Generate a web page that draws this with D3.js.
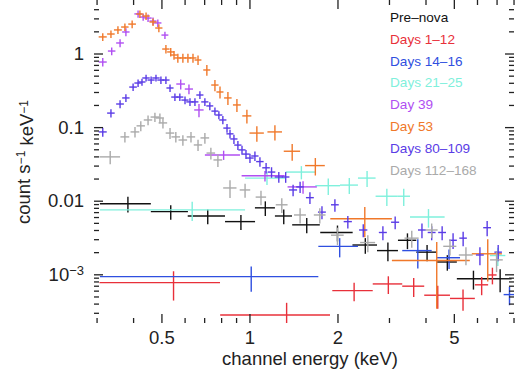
<!DOCTYPE html>
<html>
<head>
<meta charset="utf-8">
<script src="https://cdn.jsdelivr.net/npm/d3@7"></script>
<style>
  body { margin: 0; background: #fff; }
  svg { display: block; font-family: "Liberation Sans", Arial, sans-serif; }
  .axis path { display: none; }
  .axis line { stroke: #222; stroke-width: 1.3; }
  .axis text { font-size: 18.5px; fill: #222; font-family: "Liberation Sans", Arial, sans-serif; }
</style>
</head>
<body>
<div id="chart"></div>
<script>
// each row: [energy keV, half bin width, count s^-1 keV^-1, error]
var preNova = [
  [0.384, 0.076, 0.0091, 0.0022], [0.538, 0.078, 0.0071, 0.0016], [0.72, 0.105, 0.0062, 0.0014],
  [0.935, 0.11, 0.0052, 0.0012], [1.133, 0.089, 0.0080, 0.0018], [1.31, 0.088, 0.0062, 0.0014],
  [1.57, 0.17, 0.0047, 0.0011], [2.0, 0.254, 0.0037, 0.0009], [2.49, 0.24, 0.0025, 0.0006],
  [2.975, 0.245, 0.0021, 0.0006], [3.47, 0.25, 0.0029, 0.0007], [4.05, 0.33, 0.0020, 0.0005],
  [4.75, 0.37, 0.00147, 0.00035], [5.835, 0.715, 0.00087, 0.00025], [7.2, 0.68, 0.00087, 0.0003]
]
var days1to12 = [
  [0.55, 0.243, 0.00077, 0.00033], [1.34, 0.546, 0.00028, 0.00013], [2.28, 0.36, 0.0006, 0.00017],
  [2.985, 0.345, 0.00074, 0.0002], [3.645, 0.315, 0.00069, 0.0002], [4.405, 0.445, 0.00052, 0.00018],
  [5.375, 0.525, 0.00047, 0.00015], [6.225, 0.325, 0.00072, 0.0002], [6.775, 0.225, 0.00098, 0.00025]
]
var days14to16 = [
  [1.014, 0.706, 0.00093, 0.00035], [2.035, 0.315, 0.0024, 0.0007], [3.765, 0.435, 0.0021, 0.0009],
  [4.815, 0.435, 0.00168, 0.0005], [7.75, 0.35, 0.00053, 0.00015]
]
var days21to25 = [
  [0.637, 0.329, 0.0075, 0.0022], [1.148, 0.182, 0.0203, 0.004], [1.505, 0.175, 0.0245, 0.005],
  [1.86, 0.18, 0.016, 0.004], [2.195, 0.155, 0.0163, 0.004], [2.525, 0.175, 0.0203, 0.005],
  [2.95, 0.25, 0.0115, 0.003], [3.37, 0.17, 0.0115, 0.003], [4.095, 0.555, 0.006, 0.0017],
  [7.07, 0.43, 0.0018, 0.0005]
]
var day39 = [
  [0.315, 0.01, 0.766, 0.1], [0.338, 0.01, 1.08, 0.13], [0.361, 0.011, 1.39, 0.17],
  [0.378, 0.011, 1.96, 0.24], [0.416, 0.012, 3.45, 0.4], [0.433, 0.012, 3.13, 0.35],
  [0.45, 0.013, 3.03, 0.35], [0.468, 0.013, 2.76, 0.32], [0.486, 0.014, 2.60, 0.3],
  [0.514, 0.014, 1.78, 0.2], [0.582, 0.02, 0.385, 0.06], [0.621, 0.02, 0.329, 0.05],
  [0.672, 0.025, 0.171, 0.035], [0.816, 0.112, 0.0418, 0.006], [1.13, 0.19, 0.0218, 0.0035],
  [1.525, 0.175, 0.0154, 0.003]
]
var day53 = [
  [0.315, 0.01, 1.68, 0.2], [0.336, 0.01, 1.84, 0.22], [0.355, 0.011, 2.09, 0.25],
  [0.375, 0.011, 2.29, 0.27], [0.397, 0.012, 2.51, 0.3], [0.422, 0.012, 3.44, 0.4],
  [0.443, 0.013, 3.23, 0.38], [0.468, 0.013, 2.68, 0.32], [0.49, 0.014, 2.22, 0.27],
  [0.518, 0.015, 1.15, 0.15], [0.538, 0.015, 1.05, 0.14], [0.552, 0.015, 0.954, 0.13],
  [0.569, 0.016, 0.87, 0.12], [0.592, 0.016, 0.87, 0.12], [0.616, 0.017, 0.87, 0.12],
  [0.641, 0.018, 0.87, 0.12], [0.667, 0.018, 0.816, 0.12], [0.715, 0.02, 0.597, 0.1],
  [0.762, 0.022, 0.373, 0.065], [0.793, 0.022, 0.30, 0.055], [0.844, 0.025, 0.249, 0.05],
  [0.906, 0.028, 0.2, 0.04], [0.98, 0.035, 0.142, 0.03], [1.06, 0.06, 0.083, 0.02],
  [1.222, 0.07, 0.086, 0.02], [1.40, 0.09, 0.047, 0.012], [1.68, 0.13, 0.030, 0.008],
  [2.48, 0.59, 0.0057, 0.0025], [4.37, 1.3, 0.00154, 0.0012], [6.53, 0.77, 0.0019, 0.0011]
]
var days80to109 = [
  [0.315, 0.01, 0.086, 0.012], [0.336, 0.01, 0.155, 0.02], [0.361, 0.011, 0.206, 0.025],
  [0.378, 0.011, 0.249, 0.03], [0.40, 0.012, 0.35, 0.04], [0.416, 0.012, 0.397, 0.045],
  [0.429, 0.012, 0.41, 0.045], [0.443, 0.013, 0.465, 0.05], [0.461, 0.013, 0.436, 0.05],
  [0.479, 0.014, 0.465, 0.05], [0.498, 0.014, 0.436, 0.05], [0.518, 0.015, 0.436, 0.05],
  [0.535, 0.015, 0.34, 0.04], [0.556, 0.016, 0.256, 0.03], [0.578, 0.016, 0.256, 0.03],
  [0.602, 0.017, 0.233, 0.028], [0.626, 0.018, 0.22, 0.027], [0.651, 0.018, 0.22, 0.027],
  [0.677, 0.019, 0.273, 0.033], [0.704, 0.02, 0.22, 0.027], [0.732, 0.02, 0.194, 0.024],
  [0.762, 0.021, 0.165, 0.02], [0.786, 0.022, 0.146, 0.018], [0.811, 0.023, 0.125, 0.016],
  [0.838, 0.024, 0.097, 0.013], [0.858, 0.024, 0.081, 0.011], [0.885, 0.025, 0.069, 0.01],
  [0.913, 0.026, 0.057, 0.008], [0.943, 0.027, 0.049, 0.007], [0.973, 0.028, 0.043, 0.006],
  [1.004, 0.03, 0.038, 0.0055], [1.044, 0.03, 0.0405, 0.006], [1.086, 0.032, 0.034, 0.005],
  [1.14, 0.034, 0.028, 0.0045], [1.19, 0.036, 0.0245, 0.004], [1.26, 0.04, 0.021, 0.0035],
  [1.33, 0.04, 0.021, 0.0035], [1.41, 0.045, 0.014, 0.0025], [1.49, 0.045, 0.0154, 0.0027],
  [1.61, 0.05, 0.011, 0.002], [1.77, 0.055, 0.007, 0.0014], [1.96, 0.06, 0.0088, 0.0017],
  [2.17, 0.07, 0.0052, 0.001], [2.45, 0.08, 0.004, 0.0008], [2.86, 0.09, 0.0037, 0.0008],
  [3.15, 0.1, 0.0051, 0.001], [3.89, 0.12, 0.004, 0.0009], [4.2, 0.13, 0.0037, 0.0008],
  [4.56, 0.14, 0.0037, 0.0008], [4.97, 0.15, 0.0029, 0.0007], [5.38, 0.16, 0.0031, 0.0007],
  [6.14, 0.19, 0.00183, 0.0005], [6.5, 0.2, 0.0043, 0.001], [7.09, 0.21, 0.0020, 0.0005]
]
var days112to168 = [
  [0.334, 0.027, 0.0394, 0.008], [0.375, 0.013, 0.0736, 0.012], [0.406, 0.014, 0.086, 0.014],
  [0.425, 0.014, 0.104, 0.016], [0.45, 0.015, 0.125, 0.019], [0.475, 0.016, 0.137, 0.02],
  [0.494, 0.016, 0.133, 0.02], [0.506, 0.017, 0.114, 0.018], [0.535, 0.018, 0.083, 0.014],
  [0.56, 0.019, 0.0736, 0.012], [0.592, 0.02, 0.0668, 0.011], [0.631, 0.021, 0.0736, 0.012],
  [0.667, 0.022, 0.0572, 0.01], [0.704, 0.024, 0.0713, 0.012], [0.738, 0.025, 0.0444, 0.008],
  [0.78, 0.027, 0.0358, 0.007], [0.858, 0.045, 0.0149, 0.004], [0.966, 0.04, 0.014, 0.003],
  [1.095, 0.045, 0.0112, 0.0025], [1.29, 0.06, 0.0088, 0.002], [1.49, 0.07, 0.0064, 0.0015],
  [1.74, 0.08, 0.0064, 0.0015], [2.0, 0.1, 0.0034, 0.0009], [2.54, 0.15, 0.0027, 0.0007],
  [3.59, 0.2, 0.0031, 0.0008], [4.2, 0.2, 0.004, 0.0009], [4.85, 0.25, 0.0024, 0.0006],
  [5.5, 0.3, 0.00183, 0.0005], [7.0, 0.35, 0.00157, 0.0005]
]

var seriesNames = ["Pre\u2013nova", "Days 1\u201312", "Days 14\u201316", "Days 21\u201325", "Day 39", "Day 53", "Days 80\u2013109", "Days 112\u2013168"]
var seriesData = [preNova, days1to12, days14to16, days21to25, day39, day53, days80to109, days112to168]
var seriesColors = ["#111111", "#e8303a", "#2f4fe0", "#7ff0dc", "#b04ff2", "#f0782a", "#5a3ce6", "#aaaaaa"]

var xMajor = [0.5, 1, 2, 5]
var xMinor = [0.3, 0.4, 0.6, 0.7, 0.8, 0.9, 3, 4, 6, 7, 8]
var yMajor = [1, 0.1, 0.01, 0.001]
var yMinor = []
;[1e-4, 1e-3, 1e-2, 1e-1, 1].forEach(function(p) {
  for (var k = 2; k <= 9; k++) yMinor.push(+(p * k).toPrecision(3))
})

var width = 515, height = 376
var margin = {top: 6, right: 1, bottom: 53, left: 94}

var svg = d3.select("#chart").append("svg")
  .attr("width", width)
  .attr("height", height)

var x = d3.scaleLog().domain([0.294, 8.03]).range([margin.left, width - margin.right])
var y = d3.scaleLog().domain([2.18e-4, 4.42]).range([height - margin.bottom, margin.top])
yMinor = yMinor.filter(function(v) { return v > y.domain()[0] && v < y.domain()[1] })

var plot = svg.append("g")
  .attr("clip-path", "url(#clip)")
svg.append("clipPath").attr("id", "clip")
  .append("rect")
  .attr("x", x.range()[0]).attr("y", y.range()[1])
  .attr("width", x.range()[1] - x.range()[0])
  .attr("height", y.range()[0] - y.range()[1])

seriesData.forEach(function(data, i) {
  var g = plot.append("g")
    .attr("stroke", seriesColors[i])
    .attr("stroke-width", 1.4)
  // horizontal bars = bin width
  g.selectAll("line.h").data(data).enter().append("line")
    .attr("class", "h")
    .attr("x1", function(d) { return x(d[0] - d[1]) })
    .attr("x2", function(d) { return x(d[0] + d[1]) })
    .attr("y1", function(d) { return y(d[2]) })
    .attr("y2", function(d) { return y(d[2]) })
  // vertical bars = error
  g.selectAll("line.v").data(data).enter().append("line")
    .attr("class", "v")
    .attr("x1", function(d) { return x(d[0]) })
    .attr("x2", function(d) { return x(d[0]) })
    .attr("y1", function(d) { return y(Math.max(d[2] - d[3], 1e-5)) })
    .attr("y2", function(d) { return y(d[2] + d[3]) })
})

var fmtX = function(d) { return d3.format("")(d) }
var bottom = y.range()[0], top = y.range()[1], left = x.range()[0], right = x.range()[1]

// bottom axis with labels, ticks pointing inward
svg.append("g").attr("class", "axis")
  .attr("transform", "translate(0," + bottom + ")")
  .call(d3.axisBottom(x).tickValues(xMajor).tickFormat(fmtX).tickSizeInner(-9).tickSizeOuter(0).tickPadding(8))
svg.append("g").attr("class", "axis")
  .attr("transform", "translate(0," + bottom + ")")
  .call(d3.axisBottom(x).tickValues(xMinor).tickFormat("").tickSizeInner(-5).tickSizeOuter(0))
svg.append("g").attr("class", "axis")
  .attr("transform", "translate(0," + top + ")")
  .call(d3.axisTop(x).tickValues(xMajor).tickFormat("").tickSizeInner(-9).tickSizeOuter(0))
svg.append("g").attr("class", "axis")
  .attr("transform", "translate(0," + top + ")")
  .call(d3.axisTop(x).tickValues(xMinor).tickFormat("").tickSizeInner(-5).tickSizeOuter(0))

var yAx = svg.append("g").attr("class", "axis")
  .attr("transform", "translate(" + left + ",0)")
  .call(d3.axisLeft(y).tickValues(yMajor).tickFormat(function(d) { return d === 0.001 ? "" : String(d) })
    .tickSizeInner(-9).tickSizeOuter(0).tickPadding(10))
svg.append("g").attr("class", "axis")
  .attr("transform", "translate(" + left + ",0)")
  .call(d3.axisLeft(y).tickValues(yMinor).tickFormat("").tickSizeInner(-5).tickSizeOuter(0))
svg.append("g").attr("class", "axis")
  .attr("transform", "translate(" + right + ",0)")
  .call(d3.axisRight(y).tickValues(yMajor).tickFormat("").tickSizeInner(-9).tickSizeOuter(0))
svg.append("g").attr("class", "axis")
  .attr("transform", "translate(" + right + ",0)")
  .call(d3.axisRight(y).tickValues(yMinor).tickFormat("").tickSizeInner(-5).tickSizeOuter(0))

// 10^-3 label
var t3 = yAx.selectAll(".tick").filter(function(d) { return d === 0.001 }).select("text")
t3.append("tspan").text("10")
t3.append("tspan").attr("dy", "-0.45em").attr("font-size", "13px").text("\u22123")

// frame
svg.append("rect")
  .attr("x", left).attr("y", top)
  .attr("width", right - left).attr("height", bottom - top)
  .attr("fill", "none").attr("stroke", "#222").attr("stroke-width", 1.8)

// axis titles
svg.append("text")
  .attr("x", 310).attr("y", 365)
  .attr("text-anchor", "middle")
  .attr("font-size", "18.5px").attr("fill", "#222")
  .text("channel energy (keV)")

var yl = svg.append("text")
  .attr("transform", "translate(30,162) rotate(-90)")
  .attr("text-anchor", "middle")
  .attr("font-size", "18.5px").attr("fill", "#222")
yl.append("tspan").text("count s")
yl.append("tspan").attr("dy", "-0.45em").attr("font-size", "12px").text("\u22121")
yl.append("tspan").attr("dy", "0.45em").text(" keV")
yl.append("tspan").attr("dy", "-0.45em").attr("font-size", "12px").text("\u22121")

// legend
svg.append("g")
  .selectAll("text").data(seriesNames).enter().append("text")
  .attr("x", 390)
  .attr("y", function(d, i) { return 22 + i * 21.8 })
  .attr("font-size", "13.6px")
  .attr("fill", function(d, i) { return seriesColors[i] })
  .text(function(d) { return d })
</script>
</body>
</html>
